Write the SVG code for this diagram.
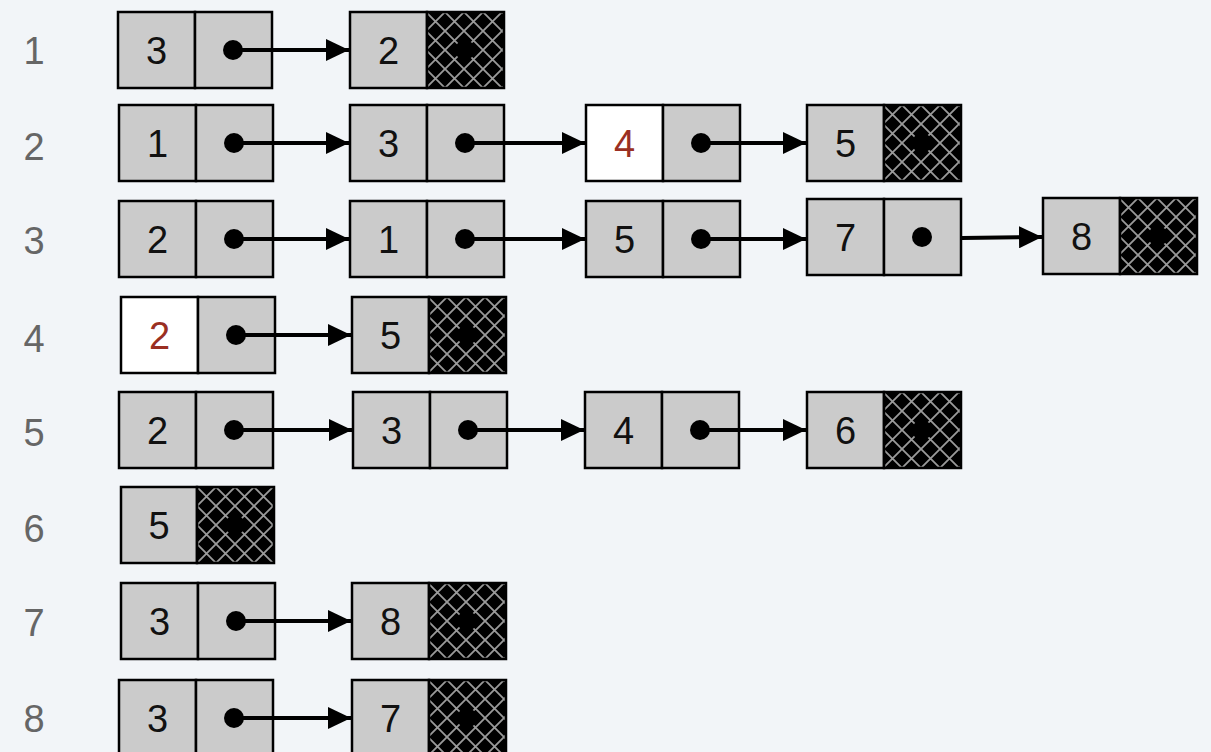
<svg xmlns="http://www.w3.org/2000/svg" width="1211" height="752" viewBox="0 0 1211 752">
<style>
.bg{fill:#f2f5f8}
.c{fill:#cbcbcb;stroke:#000;stroke-width:2.5}
.w{fill:#ffffff;stroke:#000;stroke-width:2.5}
.h{fill:url(#hatch);stroke:#000;stroke-width:2.5}
.t{font-family:"Liberation Sans",Arial,sans-serif;font-size:38px;text-anchor:middle;fill:#111}
.r{fill:#9a2f22}
.lbl{font-family:"Liberation Sans",Arial,sans-serif;font-size:38px;text-anchor:middle;fill:#666}
.dot{fill:#000}
.ln{stroke:#000;stroke-width:4;fill:none;marker-end:url(#ah)}
</style>
<defs>
<pattern id="hatch" patternUnits="userSpaceOnUse" width="19" height="19">
<rect width="19" height="19" fill="#000"/>
<path d="M0,0 L19,19 M19,0 L0,19" stroke="#9a9a9a" stroke-width="1.8"/>
</pattern>
<marker id="ah" markerUnits="userSpaceOnUse" markerWidth="24" markerHeight="22" refX="23" refY="11" orient="auto">
<path d="M0,0 L23,11 L0,22 z" fill="#000"/>
</marker>
</defs>
<rect class="bg" width="1211" height="752"/>
<g id="labels">
<text class="lbl" x="34" y="64">1</text>
<text class="lbl" x="34" y="160">2</text>
<text class="lbl" x="34" y="254">3</text>
<text class="lbl" x="34" y="352">4</text>
<text class="lbl" x="34" y="446">5</text>
<text class="lbl" x="34" y="542">6</text>
<text class="lbl" x="34" y="636">7</text>
<text class="lbl" x="34" y="732">8</text>
</g>
<g id="r1n1" transform="translate(118,12)"><rect class="c" width="77" height="76"/><rect class="c" x="77" width="77" height="76"/><text class="t" x="38.5" y="52">3</text><circle class="dot" cx="115" cy="38" r="10"/></g>
<g id="r1n2" transform="translate(350,12)"><rect class="c" width="77" height="76"/><rect class="h" x="77" width="77" height="76"/><text class="t" x="38.5" y="52">2</text><circle class="dot" cx="115" cy="38" r="10"/></g>
<g id="r2n1" transform="translate(119,105)"><rect class="c" width="77" height="76"/><rect class="c" x="77" width="77" height="76"/><text class="t" x="38.5" y="52">1</text><circle class="dot" cx="115" cy="38" r="10"/></g>
<g id="r2n2" transform="translate(350,105)"><rect class="c" width="77" height="76"/><rect class="c" x="77" width="77" height="76"/><text class="t" x="38.5" y="52">3</text><circle class="dot" cx="115" cy="38" r="10"/></g>
<g id="r2n3" transform="translate(586,105)"><rect class="w" width="77" height="76"/><rect class="c" x="77" width="77" height="76"/><text class="t r" x="38.5" y="52">4</text><circle class="dot" cx="115" cy="38" r="10"/></g>
<g id="r2n4" transform="translate(807,105)"><rect class="c" width="77" height="76"/><rect class="h" x="77" width="77" height="76"/><text class="t" x="38.5" y="52">5</text><circle class="dot" cx="115" cy="38" r="10"/></g>
<g id="r3n1" transform="translate(119,201)"><rect class="c" width="77" height="76"/><rect class="c" x="77" width="77" height="76"/><text class="t" x="38.5" y="52">2</text><circle class="dot" cx="115" cy="38" r="10"/></g>
<g id="r3n2" transform="translate(350,201)"><rect class="c" width="77" height="76"/><rect class="c" x="77" width="77" height="76"/><text class="t" x="38.5" y="52">1</text><circle class="dot" cx="115" cy="38" r="10"/></g>
<g id="r3n3" transform="translate(586,201)"><rect class="c" width="77" height="76"/><rect class="c" x="77" width="77" height="76"/><text class="t" x="38.5" y="52">5</text><circle class="dot" cx="115" cy="38" r="10"/></g>
<g id="r3n4" transform="translate(807,199)"><rect class="c" width="77" height="76"/><rect class="c" x="77" width="77" height="76"/><text class="t" x="38.5" y="52">7</text><circle class="dot" cx="115" cy="38" r="10"/></g>
<g id="r3n5" transform="translate(1043,198)"><rect class="c" width="77" height="76"/><rect class="h" x="77" width="77" height="76"/><text class="t" x="38.5" y="52">8</text><circle class="dot" cx="115" cy="38" r="10"/></g>
<g id="r4n1" transform="translate(121,297)"><rect class="w" width="77" height="76"/><rect class="c" x="77" width="77" height="76"/><text class="t r" x="38.5" y="52">2</text><circle class="dot" cx="115" cy="38" r="10"/></g>
<g id="r4n2" transform="translate(352,297)"><rect class="c" width="77" height="76"/><rect class="h" x="77" width="77" height="76"/><text class="t" x="38.5" y="52">5</text><circle class="dot" cx="115" cy="38" r="10"/></g>
<g id="r5n1" transform="translate(119,392)"><rect class="c" width="77" height="76"/><rect class="c" x="77" width="77" height="76"/><text class="t" x="38.5" y="52">2</text><circle class="dot" cx="115" cy="38" r="10"/></g>
<g id="r5n2" transform="translate(353,392)"><rect class="c" width="77" height="76"/><rect class="c" x="77" width="77" height="76"/><text class="t" x="38.5" y="52">3</text><circle class="dot" cx="115" cy="38" r="10"/></g>
<g id="r5n3" transform="translate(585,392)"><rect class="c" width="77" height="76"/><rect class="c" x="77" width="77" height="76"/><text class="t" x="38.5" y="52">4</text><circle class="dot" cx="115" cy="38" r="10"/></g>
<g id="r5n4" transform="translate(807,392)"><rect class="c" width="77" height="76"/><rect class="h" x="77" width="77" height="76"/><text class="t" x="38.5" y="52">6</text><circle class="dot" cx="115" cy="38" r="10"/></g>
<g id="r6n1" transform="translate(121,487)"><rect class="c" width="76" height="76"/><rect class="h" x="76" width="77" height="76"/><text class="t" x="38" y="52">5</text><circle class="dot" cx="114" cy="38" r="10"/></g>
<g id="r7n1" transform="translate(121,583)"><rect class="c" width="77" height="76"/><rect class="c" x="77" width="77" height="76"/><text class="t" x="38.5" y="52">3</text><circle class="dot" cx="115" cy="38" r="10"/></g>
<g id="r7n2" transform="translate(352,583)"><rect class="c" width="77" height="76"/><rect class="h" x="77" width="77" height="76"/><text class="t" x="38.5" y="52">8</text><circle class="dot" cx="115" cy="38" r="10"/></g>
<g id="r8n1" transform="translate(119,680)"><rect class="c" width="77" height="76"/><rect class="c" x="77" width="77" height="76"/><text class="t" x="38.5" y="52">3</text><circle class="dot" cx="115" cy="38" r="10"/></g>
<g id="r8n2" transform="translate(352,680)"><rect class="c" width="77" height="76"/><rect class="h" x="77" width="77" height="76"/><text class="t" x="38.5" y="52">7</text><circle class="dot" cx="115" cy="38" r="10"/></g>
<g id="connectors">
<line class="ln" x1="233" y1="50" x2="349" y2="50"/>
<line class="ln" x1="234" y1="143" x2="349" y2="143"/>
<line class="ln" x1="465" y1="143" x2="585" y2="143"/>
<line class="ln" x1="701" y1="143" x2="806" y2="143"/>
<line class="ln" x1="234" y1="239" x2="349" y2="239"/>
<line class="ln" x1="465" y1="239" x2="585" y2="239"/>
<line class="ln" x1="701" y1="239" x2="806" y2="239"/>
<line class="ln" x1="962" y1="238" x2="1042" y2="237"/>
<line class="ln" x1="236" y1="335" x2="351" y2="335"/>
<line class="ln" x1="234" y1="430" x2="352" y2="430"/>
<line class="ln" x1="468" y1="430" x2="584" y2="430"/>
<line class="ln" x1="700" y1="430" x2="806" y2="430"/>
<line class="ln" x1="236" y1="621" x2="351" y2="621"/>
<line class="ln" x1="234" y1="718" x2="351" y2="718"/>
</g>
</svg>
